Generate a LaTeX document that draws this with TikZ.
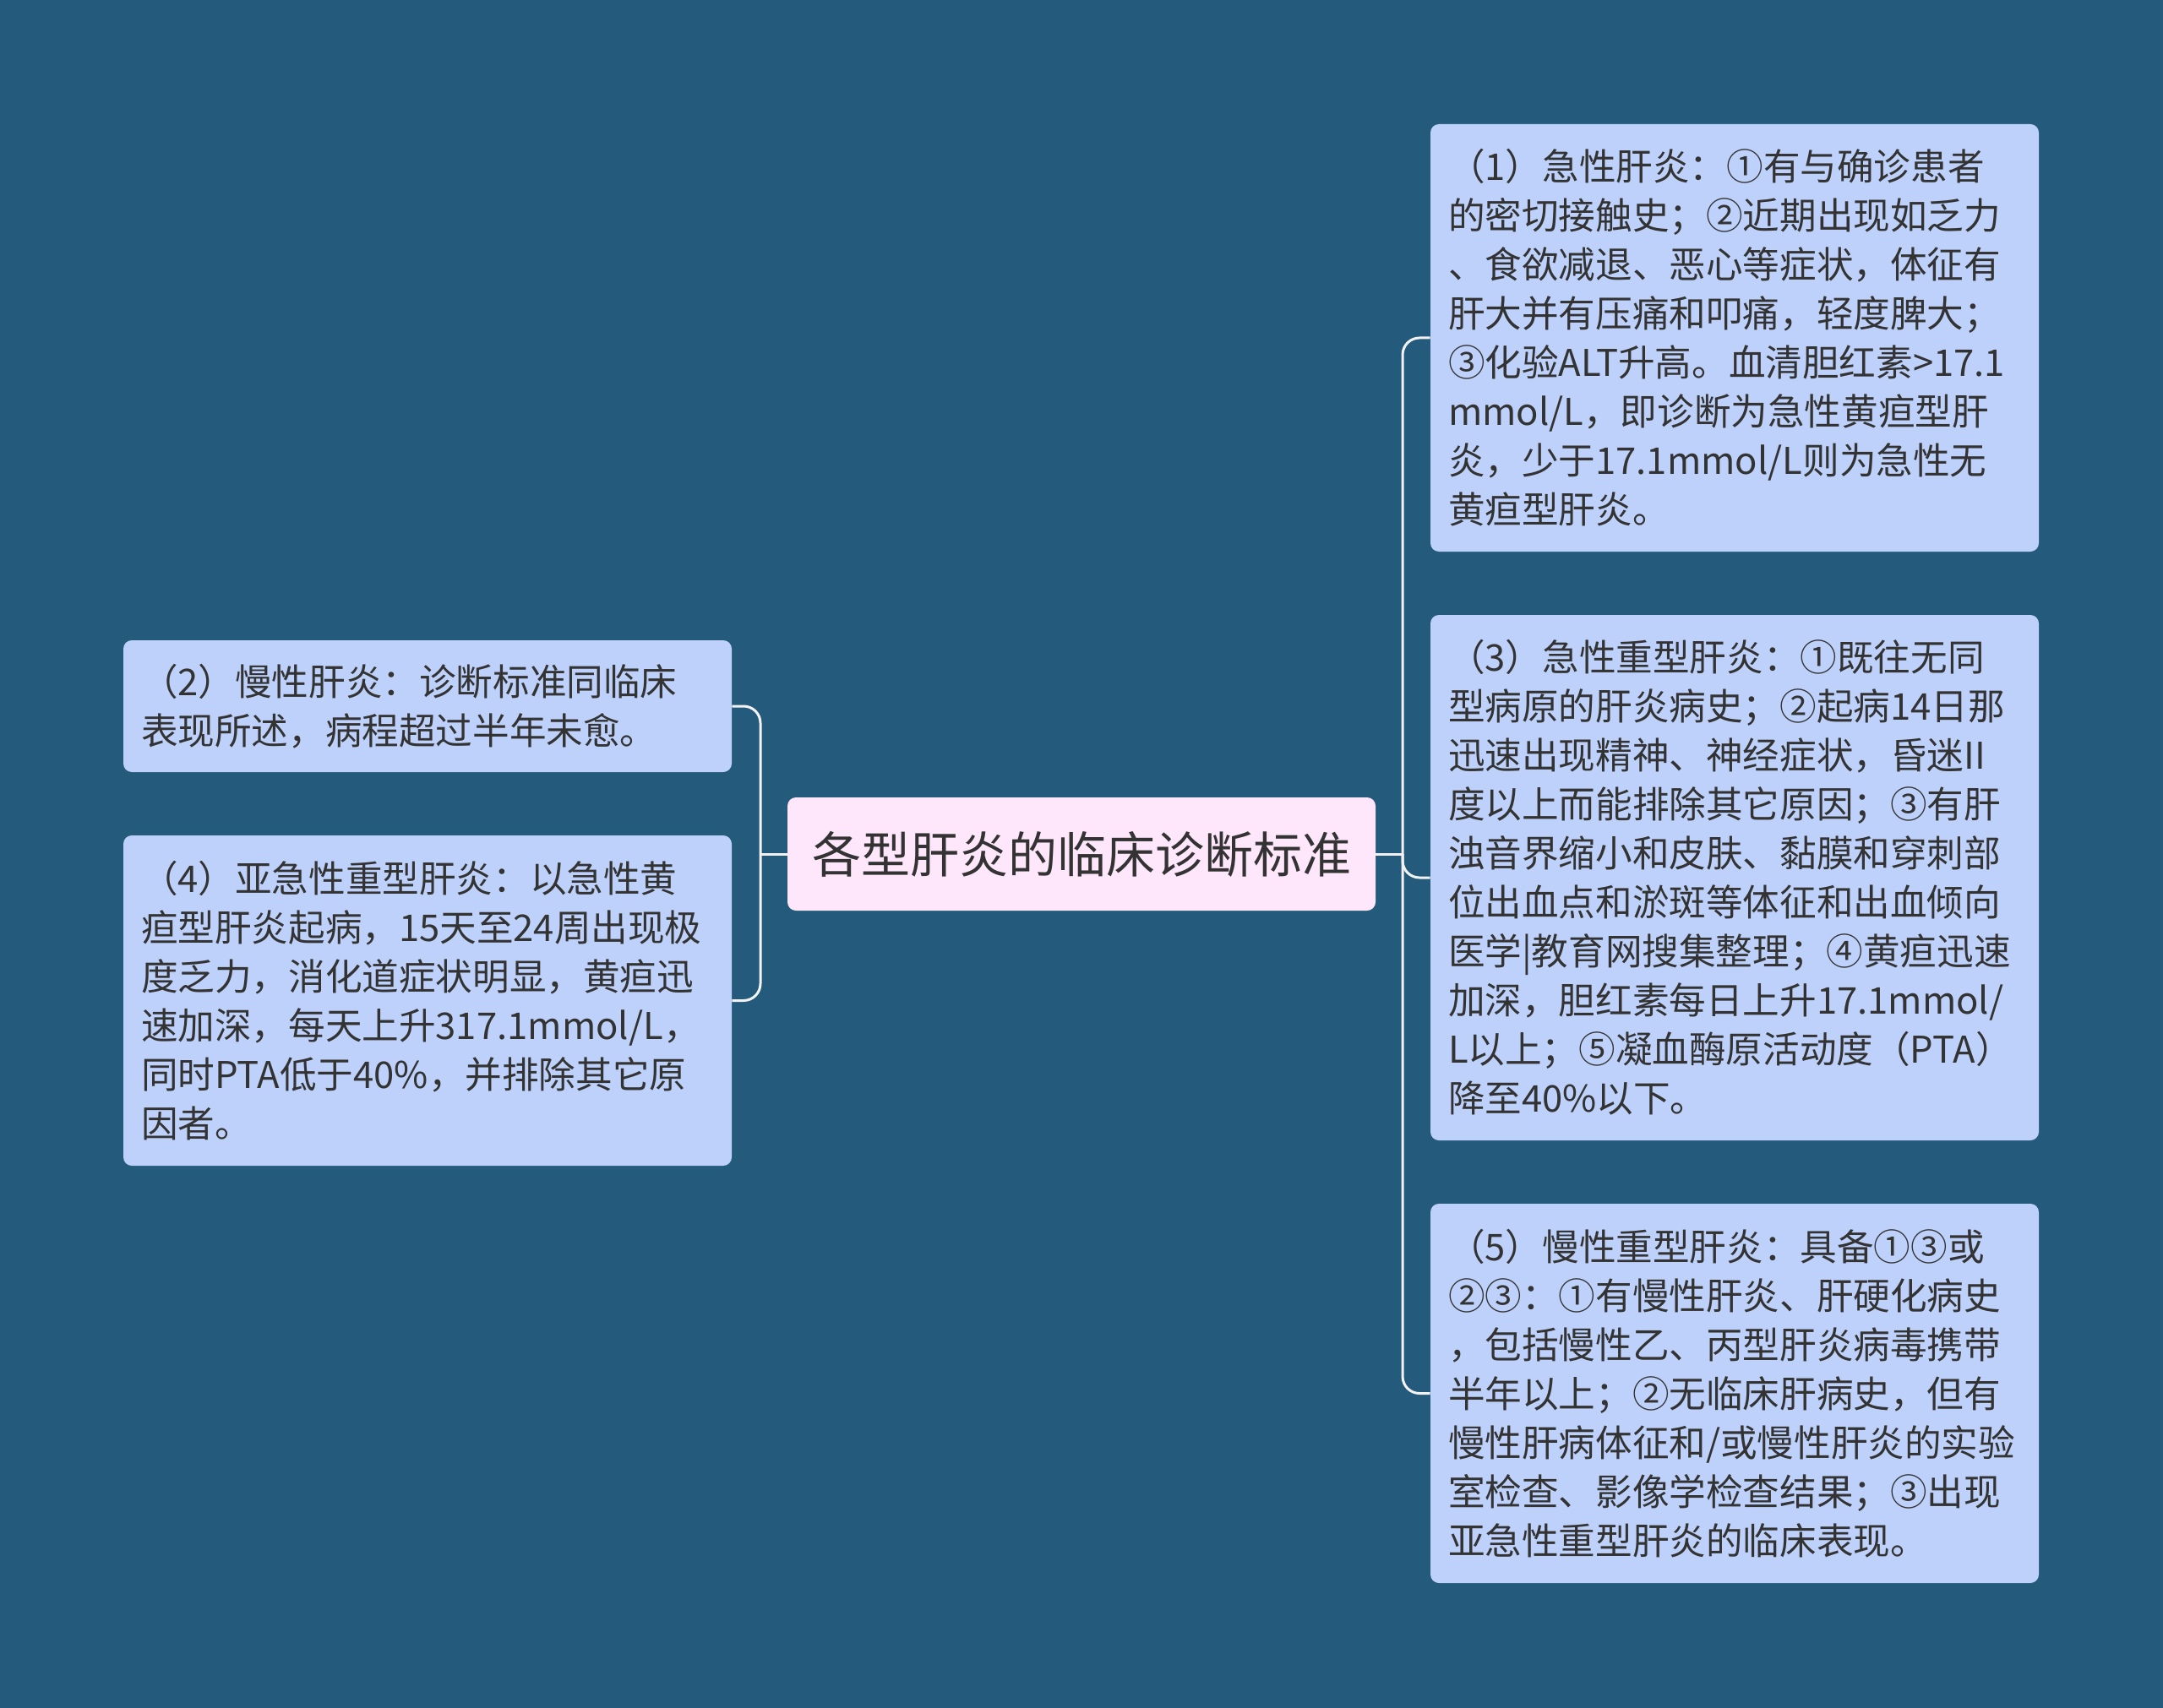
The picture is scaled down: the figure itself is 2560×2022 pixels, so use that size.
\documentclass[tikz,border=0pt]{standalone}
\usepackage{fontspec}
\setmainfont{Noto Sans CJK SC}
\definecolor{bgc}{HTML}{245A7C}
\definecolor{leafc}{HTML}{BDD1FB}
\definecolor{rootc}{HTML}{FEE6FB}
\definecolor{txtc}{HTML}{333333}
\definecolor{wirec}{HTML}{F2F2F2}
\tikzset{
  leafbox/.style={rectangle, rounded corners=5pt, fill=leafc, draw=none, text=txtc,
    font=\fontsize{21.8pt}{29pt}\selectfont, align=left, inner xsep=10.5pt, inner ysep=0pt,
    text width=339pt},
  rootbox/.style={rectangle, rounded corners=5pt, fill=rootc, draw=none, text=txtc,
    font=\fontsize{29pt}{36pt}\selectfont, align=center, inner sep=0pt,
    minimum width=348pt, minimum height=67pt},
  wire/.style={draw=wirec, line width=1.5pt, rounded corners=10pt}
}
\begin{document}
\begin{tikzpicture}[x=0.5pt,y=-0.5pt]
\fill[bgc] (0,0) rectangle (2560,2022);
\useasboundingbox (0,0) rectangle (2560,2022);

\node[rootbox] (root) at (1280,1011) {各型肝炎的临床诊断标准};

\node[leafbox, minimum height=253pt] (n1) at (2053,400) {（1）急性肝炎：①有与确诊患者\\的密切接触史；②近期出现如乏力\\、食欲减退、恶心等症状，体征有\\肝大并有压痛和叩痛，轻度脾大；\\③化验ALT升高。血清胆红素>17.1\\mmol/L，即诊断为急性黄疸型肝\\炎，少于17.1mmol/L则为急性无\\黄疸型肝炎。};

\node[leafbox, minimum height=311pt] (n3) at (2053,1039) {（3）急性重型肝炎：①既往无同\\型病原的肝炎病史；②起病14日那\\迅速出现精神、神经症状，昏迷II\\度以上而能排除其它原因；③有肝\\浊音界缩小和皮肤、黏膜和穿刺部\\位出血点和淤斑等体征和出血倾向\\医学|教育网搜集整理；④黄疸迅速\\加深，胆红素每日上升17.1mmol/\\L以上；⑤凝血酶原活动度（PTA）\\降至40\%以下。};

\node[leafbox, minimum height=224.5pt] (n5) at (2053,1649.5) {（5）慢性重型肝炎：具备①③或\\②③：①有慢性肝炎、肝硬化病史\\，包括慢性乙、丙型肝炎病毒携带\\半年以上；②无临床肝病史，但有\\慢性肝病体征和/或慢性肝炎的实验\\室检查、影像学检查结果；③出现\\亚急性重型肝炎的临床表现。};

\node[leafbox, minimum height=78pt] (n2) at (506,836) {（2）慢性肝炎：诊断标准同临床\\表现所述，病程超过半年未愈。};

\node[leafbox, minimum height=195.5pt] (n4) at (506,1184.5) {（4）亚急性重型肝炎：以急性黄\\疸型肝炎起病，15天至24周出现极\\度乏力，消化道症状明显，黄疸迅\\速加深，每天上升317.1mmol/L，\\同时PTA低于40\%，并排除其它原\\因者。};

\coordinate (jL) at (900,1011);
\coordinate (jR) at (1660,1011);

\draw[wire] (root.west) -- (jL);
\draw[wire] (jL) |- (n2.east);
\draw[wire] (jL) |- (n4.east);
\draw[wire] (root.east) -- (jR);
\draw[wire] (jR) |- (n1.west);
\draw[wire] (jR) |- (n3.west);
\draw[wire] (jR) |- (n5.west);
\end{tikzpicture}
\end{document}
